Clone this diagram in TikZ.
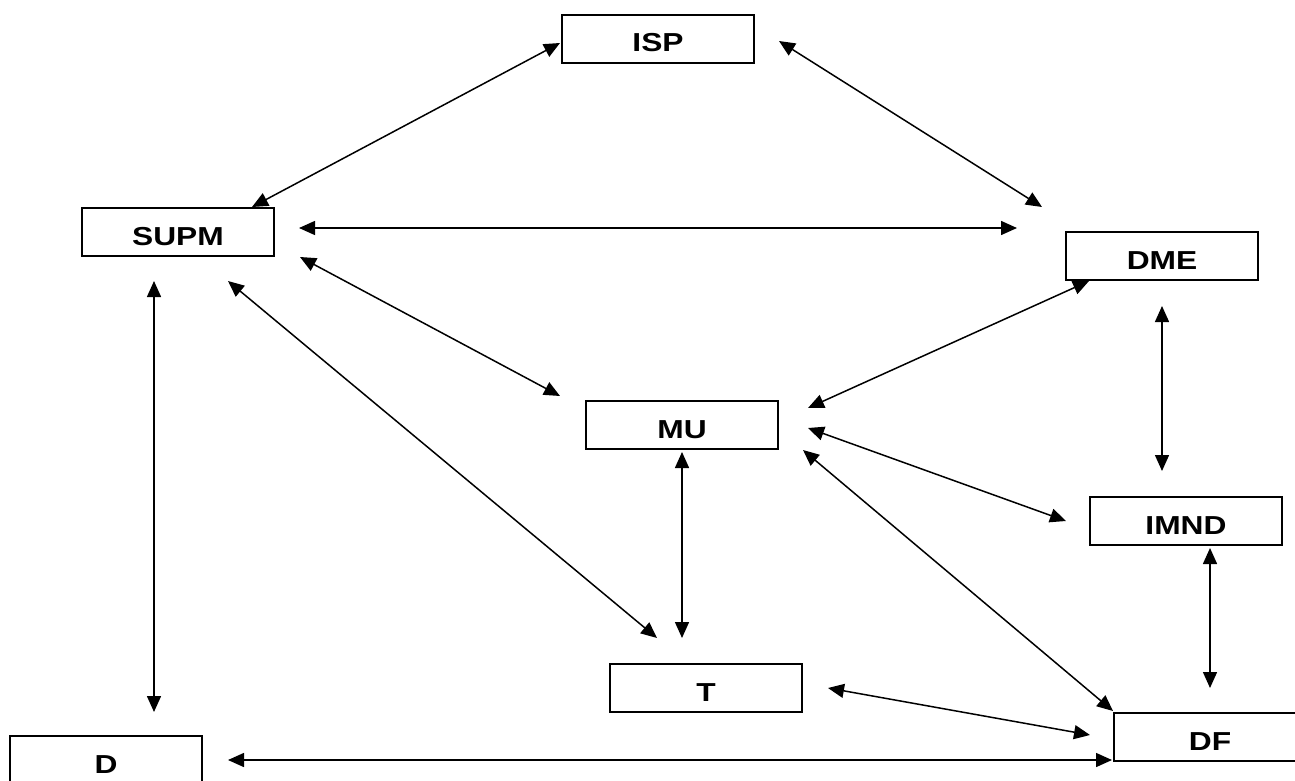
\documentclass[tikz,border=0pt]{standalone}
\usepackage{fontspec}
\newfontfamily\labfont[FakeStretch=1.22]{Liberation Sans}
\usetikzlibrary{arrows.meta}
\tikzset{
  box/.style={draw=black, line width=1.4pt, fill=white, minimum width=192pt, minimum height=48pt,
    inner xsep=0pt, inner ysep=0pt, text height=37pt, text depth=11pt,
    font=\labfont\bfseries\fontsize{26pt}{26pt}\selectfont},
  link/.style={line width=1.5pt, {Triangle[length=16pt,width=14pt]}-{Triangle[length=16pt,width=14pt]}}
}
\begin{document}
\begin{tikzpicture}[x=1pt,y=-1pt]
\useasboundingbox (0,0) rectangle (1295,781);
\node[box] (isp) at (658,39) {ISP};
\node[box] (supm) at (178,232) {SUPM};
\node[box] (dme) at (1162,256) {DME};
\node[box] (mu) at (682,425) {MU};
\node[box] (t) at (706,688) {T};
\node[box] (imnd) at (1186,521) {IMND};
\node[box] (d) at (106,760) {D};
\node[box] (df) at (1210,737) {DF};
% connector end points
\coordinate (isp-w) at (560,43);   \coordinate (supm-n) at (252,207);
\coordinate (isp-e) at (779,41);   \coordinate (dme-nw) at (1042,207);
\coordinate (supm-e) at (299,228); \coordinate (dme-w) at (1017,228);
\coordinate (supm-se) at (300,257); \coordinate (mu-nw) at (560,396);
\coordinate (supm-s) at (228,281); \coordinate (t-nw) at (657,638);
\coordinate (supm-sw) at (154,281); \coordinate (d-n) at (154,712);
\coordinate (dme-sw) at (1089,281); \coordinate (mu-ne) at (808,408);
\coordinate (dme-s) at (1162,306); \coordinate (imnd-n) at (1162,471);
\coordinate (mu-e) at (808,428);   \coordinate (imnd-w) at (1066,521);
\coordinate (mu-s) at (682,452);   \coordinate (t-n) at (682,638);
\coordinate (mu-se) at (803,450);  \coordinate (df-nw) at (1113,711);
\coordinate (imnd-s) at (1210,548); \coordinate (df-n) at (1210,688);
\coordinate (t-e) at (828,688);    \coordinate (df-w) at (1090,735);
\coordinate (d-e) at (228,760);    \coordinate (df-sw) at (1112,760);
\draw[link] (isp-w) -- (supm-n);
\draw[link] (isp-e) -- (dme-nw);
\draw[link] (supm-e) -- (dme-w);
\draw[link] (supm-se) -- (mu-nw);
\draw[link] (supm-s) -- (t-nw);
\draw[link] (supm-sw) -- (d-n);
\draw[link] (dme-sw) -- (mu-ne);
\draw[link] (dme-s) -- (imnd-n);
\draw[link] (mu-e) -- (imnd-w);
\draw[link] (mu-s) -- (t-n);
\draw[link] (mu-se) -- (df-nw);
\draw[link] (imnd-s) -- (df-n);
\draw[link] (t-e) -- (df-w);
\draw[link] (d-e) -- (df-sw);
\end{tikzpicture}
\end{document}
